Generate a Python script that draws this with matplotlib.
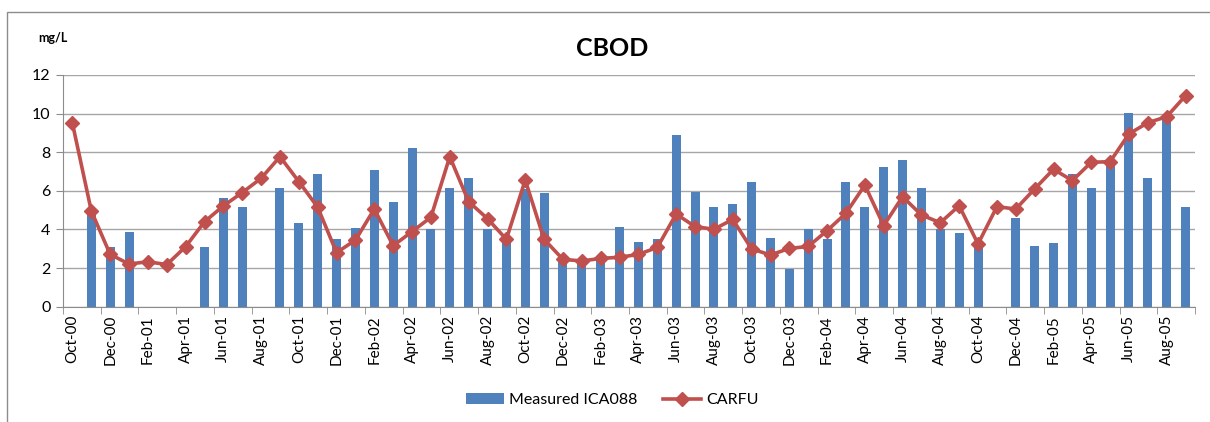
import numpy as np
import pandas as pd
import matplotlib
matplotlib.use("Agg")
import matplotlib.pyplot as plt
from matplotlib.patches import Rectangle

plt.rcParams['font.family'] = ['Lato', 'DejaVu Sans']

# Months Oct-00 .. Sep-05
months = pd.date_range("2000-10-01", periods=60, freq="MS").strftime("%b-%y").tolist()

# Measured ICA088 (bars), nan = no sample
measured = [np.nan, 4.9, 3.1, 3.85, np.nan, np.nan, np.nan, 3.1, 5.65, 5.15,
            np.nan, 6.15, 4.35, 6.85, 3.5, 4.1, 7.08, 5.42, 8.22, 4.05,
            6.15, 6.65, 4.05, 3.4, 6.12, 5.87, 2.4, 2.3, 2.45, 4.15,
            3.35, 3.5, 8.88, 5.92, 5.15, 5.3, 6.44, 3.56, 1.97, 4.01,
            3.5, 6.44, 5.15, 7.22, 7.6, 6.15, 4.0, 3.8, 3.4, np.nan,
            4.58, 3.14, 3.28, 6.87, 6.15, 7.43, 10.03, 6.65, 9.7, 5.15]

# CARFU model (line)
carfu = [9.5, 4.96, 2.71, 2.21, 2.33, 2.18, 3.11, 4.40, 5.22, 5.91,
         6.65, 7.77, 6.48, 5.15, 2.80, 3.45, 5.06, 3.16, 3.89, 4.63,
         7.77, 5.44, 4.56, 3.49, 6.56, 3.49, 2.45, 2.37, 2.50, 2.56,
         2.71, 3.07, 4.80, 4.15, 4.01, 4.52, 2.99, 2.68, 3.02, 3.12,
         3.94, 4.84, 6.30, 4.20, 5.70, 4.75, 4.35, 5.23, 3.25, 5.18,
         5.06, 6.10, 7.12, 6.53, 7.48, 7.51, 8.95, 9.53, 9.84, 10.93]

x = np.arange(len(months))

fig = plt.figure(figsize=(12.1, 4.22), dpi=100)
ax = fig.add_axes([63/1210, 115.3/422, 1132/1210, 231.7/422])

# outer chart border
fig.patches.append(Rectangle((7/1210, -0.05), 1.2, (422-12)/422 + 0.05,
                             transform=fig.transFigure, fill=False,
                             edgecolor='#8c8c8c', lw=1.0))

bars = ax.bar(x, measured, width=0.48, color='#4F81BD', label='Measured ICA088', zorder=2)
line, = ax.plot(x, carfu, color='#C0504D', lw=2.6, marker='D', markersize=7,
                label='CARFU', zorder=3)

ax.set_xlim(-0.5, len(months) - 0.5)
ax.set_ylim(0, 12)
ax.set_yticks(range(0, 13, 2))
ax.yaxis.grid(True, color='#a6a6a6', lw=1.0, zorder=0)
ax.set_axisbelow(True)

ax.set_xticks(x[::2])
ax.set_xticklabels(months[::2], rotation=90, fontsize=11)
ax.set_xticks(np.arange(-0.5, len(months), 2), minor=True)
ax.tick_params(axis='x', which='major', length=0, pad=6)
ax.tick_params(axis='x', which='minor', length=5, color='#8c8c8c')
ax.tick_params(axis='y', length=5, color='#8c8c8c', labelsize=11.5, pad=4)

for s in ['top', 'right']:
    ax.spines[s].set_visible(False)
for s in ['left', 'bottom']:
    ax.spines[s].set_color('#8c8c8c')

fig.text(612/1210, 1 - 48/422, 'CBOD', ha='center', va='center',
         fontsize=18, fontweight='bold')
fig.text(38/1210, 1 - 38/422, 'mg/L', ha='left', va='center',
         fontsize=9, fontweight='bold')

fig.legend([bars, line], ['Measured ICA088', 'CARFU'], loc='center',
           bbox_to_anchor=(612/1210, 22/422), ncol=2,
           frameon=False, fontsize=11.5, handlelength=2.4,
           handletextpad=0.3, columnspacing=1.6)

fig.savefig('out.png', dpi=100)
